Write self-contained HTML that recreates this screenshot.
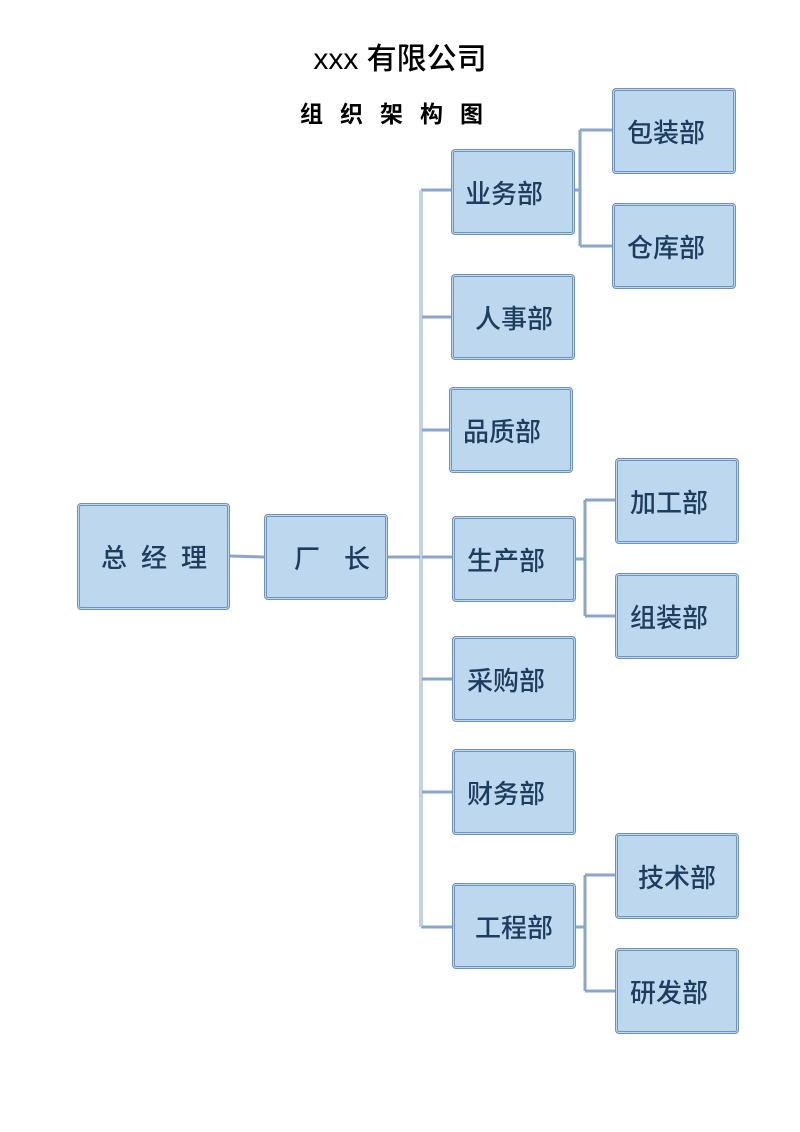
<!DOCTYPE html>
<html><head><meta charset="utf-8"><style>
body{margin:0;width:800px;height:1132px;background:#fff;position:relative;font-family:"Liberation Sans","Noto Sans CJK SC",sans-serif;overflow:hidden}
.t{position:absolute;left:0;width:800px;text-align:center;color:#000;font-weight:bold}
.b{position:absolute;box-sizing:border-box;background:#bdd7ee;border:3px double #6f93bb;border-radius:4px;display:flex;align-items:center;justify-content:flex-start;color:#1e3d5e;font-size:26px;font-weight:500;font-family:"Noto Sans CJK SC",sans-serif;padding-left:11px;white-space:nowrap}
svg{position:absolute;left:0;top:0}
</style></head><body>
<div class="t" style="top:34px;font-size:30px;font-family:'Liberation Sans','Noto Sans CJK SC',sans-serif"><span style="font-weight:500">xxx 有限公司</span></div>
<div class="t" style="top:95px;font-size:23px;letter-spacing:17px;padding-left:0px">组织架构图</div>
<svg width="800" height="1132"><g stroke="#8aa6c8" stroke-width="3" fill="none">
<line x1="230" y1="556" x2="264" y2="557"/>
<line x1="388" y1="557" x2="452" y2="557"/>
<line x1="421" y1="190" x2="421" y2="927"/>
<line x1="421" y1="190" x2="451" y2="190"/>
<line x1="421" y1="317" x2="451" y2="317"/>
<line x1="421" y1="430" x2="449" y2="430"/>
<line x1="421" y1="679" x2="452" y2="679"/>
<line x1="421" y1="792" x2="452" y2="792"/>
<line x1="421" y1="927" x2="452" y2="927"/>
<line x1="575" y1="190" x2="580" y2="190"/>
<line x1="580" y1="130" x2="580" y2="246"/>
<line x1="580" y1="130" x2="612" y2="130"/>
<line x1="580" y1="246" x2="612" y2="246"/>
<line x1="576" y1="559" x2="585" y2="559"/>
<line x1="585" y1="500" x2="585" y2="616"/>
<line x1="585" y1="500" x2="615" y2="500"/>
<line x1="585" y1="616" x2="615" y2="616"/>
<line x1="576" y1="927" x2="585" y2="927"/>
<line x1="585" y1="875" x2="585" y2="991"/>
<line x1="585" y1="875" x2="615" y2="875"/>
<line x1="585" y1="991" x2="615" y2="991"/>
</g><g stroke="#fff" stroke-width="1">
<line x1="421" y1="190" x2="421" y2="927"/>
</g></svg>
<div class="b" style="left:77px;top:503px;width:153px;height:107px;letter-spacing:14px;padding-left:21px">总经理</div>
<div class="b" style="left:264px;top:514px;width:124px;height:86px;letter-spacing:24px;padding-left:27px">厂长</div>
<div class="b" style="left:451px;top:149px;width:124px;height:86px">业务部</div>
<div class="b" style="left:451px;top:274px;width:124px;height:86px;padding-left:21px">人事部</div>
<div class="b" style="left:449px;top:387px;width:124px;height:86px">品质部</div>
<div class="b" style="left:452px;top:516px;width:124px;height:86px;padding-left:12px">生产部</div>
<div class="b" style="left:452px;top:636px;width:124px;height:86px;padding-left:12px">采购部</div>
<div class="b" style="left:452px;top:749px;width:124px;height:86px;padding-left:12px">财务部</div>
<div class="b" style="left:452px;top:883px;width:124px;height:86px;padding-left:20px">工程部</div>
<div class="b" style="left:612px;top:88px;width:124px;height:86px;padding-left:12px">包装部</div>
<div class="b" style="left:612px;top:203px;width:124px;height:86px;padding-left:12px">仓库部</div>
<div class="b" style="left:615px;top:458px;width:124px;height:86px;padding-left:12px">加工部</div>
<div class="b" style="left:615px;top:573px;width:124px;height:86px;padding-left:12px">组装部</div>
<div class="b" style="left:615px;top:833px;width:124px;height:86px;padding-left:20px">技术部</div>
<div class="b" style="left:615px;top:948px;width:124px;height:86px;padding-left:12px">研发部</div>
</body></html>
